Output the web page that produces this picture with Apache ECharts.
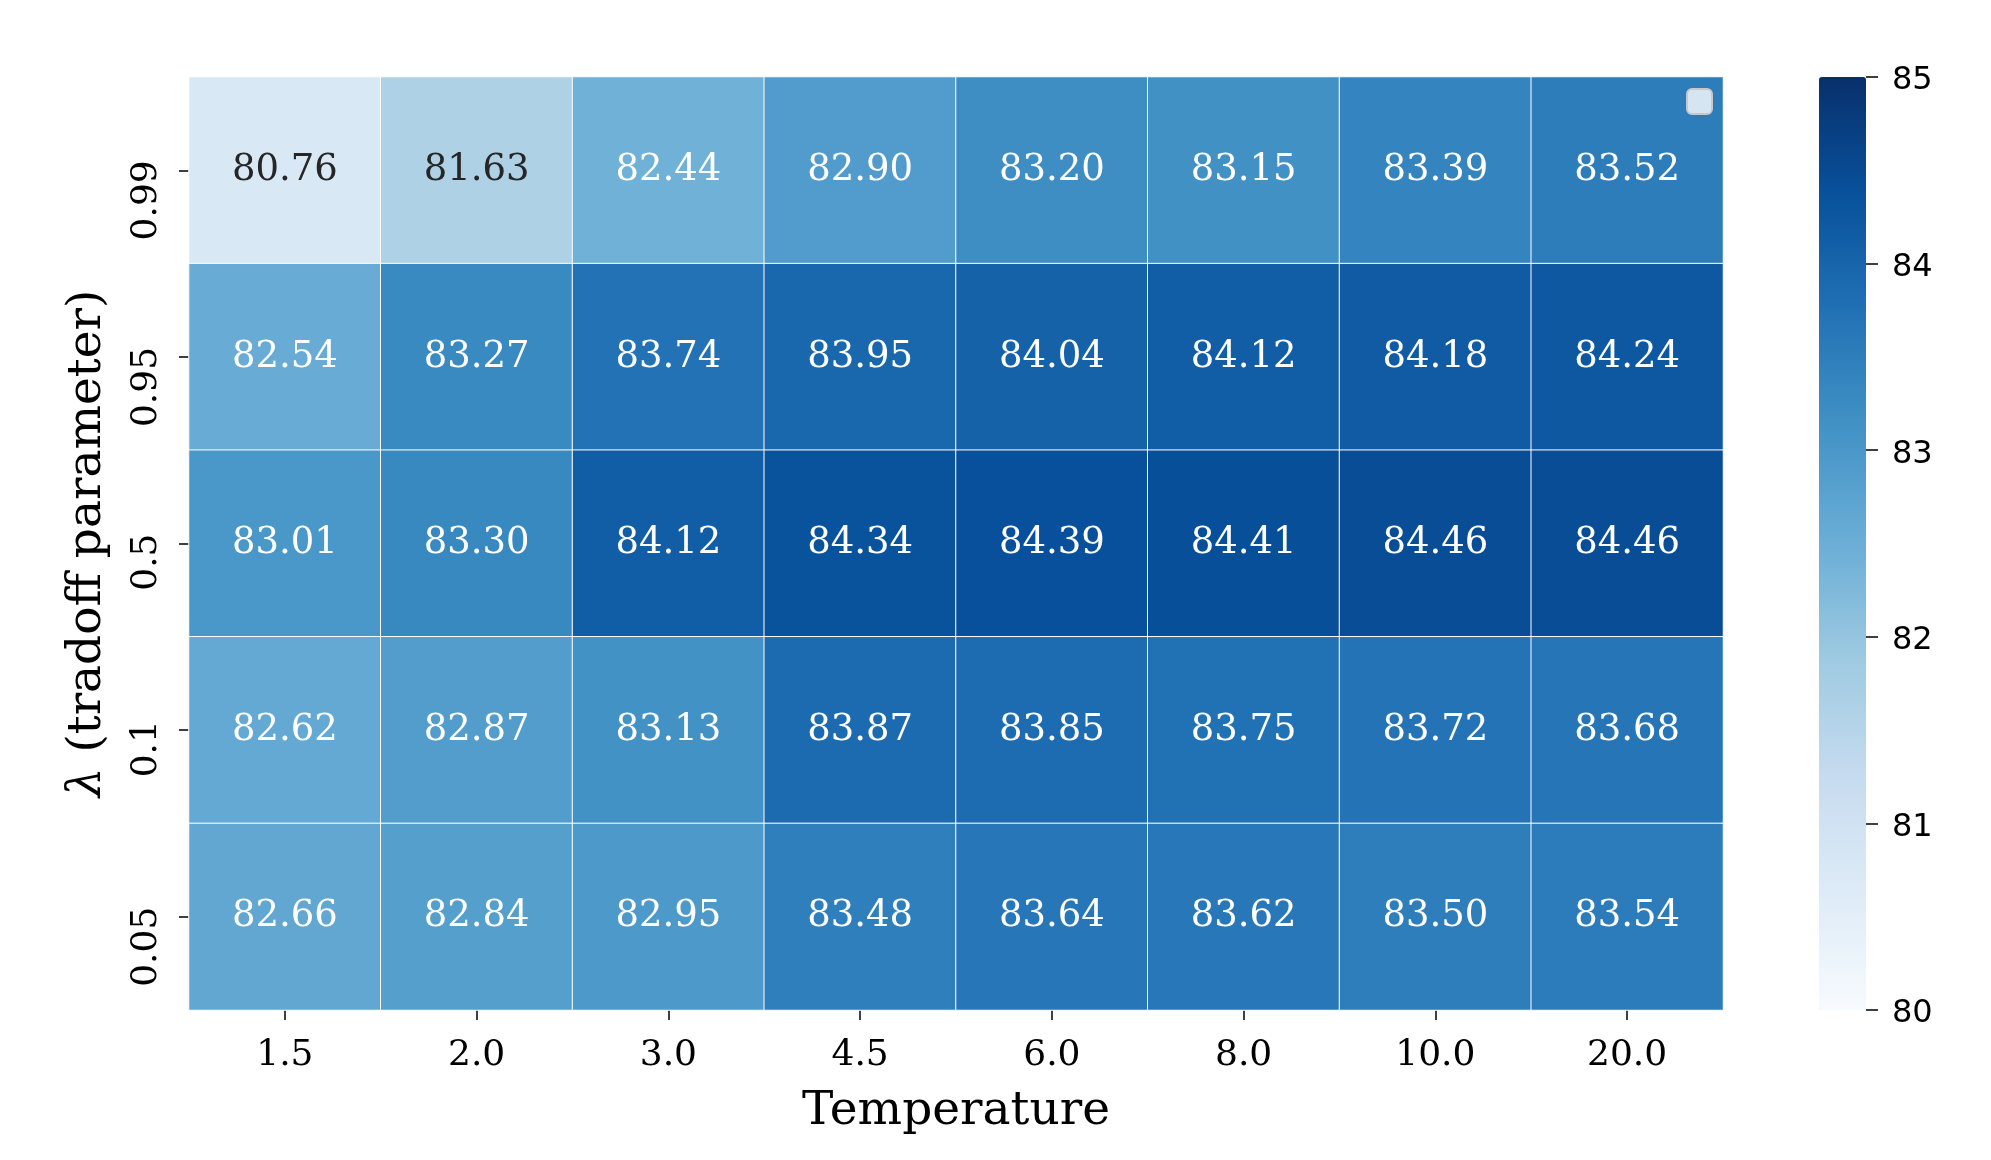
<!DOCTYPE html>
<html>
<head>
<meta charset="utf-8">
<script src="https://cdn.jsdelivr.net/npm/echarts@6/dist/echarts.min.js"></script>
<style>html,body{margin:0;padding:0;background:#fff;}#c{width:1991px;height:1160px;}</style>
</head>
<body>
<div id="c"></div>
<script>
const temperatures = ['1.5', '2.0', '3.0', '4.5', '6.0', '8.0', '10.0', '20.0'];
const lambdas = ['0.99', '0.95', '0.5', '0.1', '0.05'];
const row_0_99 = [80.76, 81.63, 82.44, 82.90, 83.20, 83.15, 83.39, 83.52];
const row_0_95 = [82.54, 83.27, 83.74, 83.95, 84.04, 84.12, 84.18, 84.24];
const row_0_5  = [83.01, 83.30, 84.12, 84.34, 84.39, 84.41, 84.46, 84.46];
const row_0_1  = [82.62, 82.87, 83.13, 83.87, 83.85, 83.75, 83.72, 83.68];
const row_0_05 = [82.66, 82.84, 82.95, 83.48, 83.64, 83.62, 83.50, 83.54];
const colorbarTicks = [80, 81, 82, 83, 84, 85];

const rows = [row_0_99, row_0_95, row_0_5, row_0_1, row_0_05];
const blues = ['#f7fbff', '#deebf7', '#c6dbef', '#9ecae1', '#6baed6', '#4292c6', '#2171b5', '#08519c', '#08306b'];

const data = [];
rows.forEach((row, r) => {
  row.forEach((v, c) => {
    data.push({
      value: [c, r, v],
      label: { color: v < 82 ? '#262626' : '#ffffff' }
    });
  });
});

const chart = echarts.init(document.getElementById('c'));
chart.setOption({
  animation: false,
  backgroundColor: '#ffffff',
  grid: [
    { left: 189, right: 268, top: 77, bottom: 150 },
    { left: 1819, width: 47, top: 77, bottom: 150 }
  ],
  xAxis: [
    {
      type: 'category', data: temperatures, gridIndex: 0,
      axisLine: { show: false },
      axisTick: { show: true, length: 10, alignWithLabel: true, lineStyle: { color: '#000', width: 1.5 } },
      axisLabel: { fontFamily: 'DejaVu Serif', fontSize: 36, color: '#000', margin: 28 },
      splitLine: { show: false },
      name: 'Temperature', nameLocation: 'middle', nameGap: 78,
      nameTextStyle: { fontFamily: 'DejaVu Serif', fontSize: 47, color: '#000' }
    },
    { type: 'value', gridIndex: 1, show: false, min: 0, max: 1 }
  ],
  yAxis: [
    {
      type: 'category', data: lambdas, gridIndex: 0, inverse: true,
      axisLine: { show: false },
      axisTick: { show: true, length: 10, alignWithLabel: true, lineStyle: { color: '#000', width: 1.5 } },
      axisLabel: { fontFamily: 'DejaVu Serif', fontSize: 36, color: '#000', rotate: 90, margin: 24,
        align: 'right', padding: [0, -10, 0, 0] },
      splitLine: { show: false },
      name: '{i|λ} (tradoff parameter)', nameLocation: 'middle', nameGap: 78, nameRotate: 90,
      nameTextStyle: {
        fontFamily: 'DejaVu Serif', fontSize: 47, color: '#000',
        rich: { i: { fontFamily: 'DejaVu Serif', fontStyle: 'italic', fontSize: 47, color: '#000' } }
      }
    },
    {
      type: 'value', gridIndex: 1, position: 'right', min: 80, max: 85, interval: 1,
      axisLine: { show: false, onZero: false },
      axisTick: { show: true, length: 12, inside: false, lineStyle: { color: '#000', width: 1.5 } },
      axisLabel: { fontFamily: 'DejaVu Sans', fontSize: 32, color: '#000', margin: 26,
        formatter: v => colorbarTicks.includes(v) ? '{a|' + v + '}' : '',
        rich: { a: { fontFamily: 'DejaVu Sans', fontSize: 32, color: '#000', padding: [8, 0, 0, 0] } } },
      splitLine: { show: false }
    }
  ],
  visualMap: {
    type: 'continuous', min: 80, max: 85, seriesIndex: 0,
    orient: 'vertical', left: 1819, top: 77, padding: 0,
    itemWidth: 47, itemHeight: 933, calculable: false, text: null,
    inRange: { color: blues }
  },
  graphic: [
    { type: 'rect', left: 1686, top: 88, shape: { width: 25, height: 25, r: 5 },
      style: { fill: 'rgba(255,255,255,0.8)', stroke: '#c8c8c8', lineWidth: 2 }, z: 100 }
  ],
  series: [{
    type: 'heatmap', xAxisIndex: 0, yAxisIndex: 0,
    data: data,
    itemStyle: { borderColor: '#ffffff', borderWidth: 1 },
    label: { show: true, fontFamily: 'DejaVu Serif', fontSize: 37,
      formatter: p => p.value[2].toFixed(2) },
    emphasis: { disabled: true }
  }]
});
</script>
</body>
</html>
